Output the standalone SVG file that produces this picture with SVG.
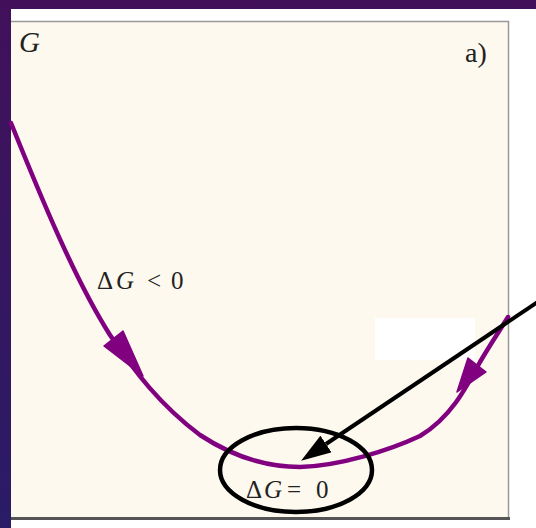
<svg xmlns="http://www.w3.org/2000/svg" width="536" height="528" viewBox="0 0 536 528">
<defs>
<linearGradient id="bg" x1="0" y1="0" x2="0" y2="1">
<stop offset="0" stop-color="#42105a"/>
<stop offset="1" stop-color="#2a1c66"/>
</linearGradient>
<marker id="blk" viewBox="0 0 30 20" refX="0" refY="10" markerWidth="30" markerHeight="20" markerUnits="userSpaceOnUse" orient="auto">
<path d="M0,0 L30,10 L0,20 z" fill="#000"/>
</marker>
<style>
.lbl{font-family:"Liberation Serif","Times New Roman",serif;fill:#222}
.it{font-style:italic}
.curve{fill:none;stroke:#800080;stroke-width:4.5;stroke-linejoin:round;stroke-linecap:round}
.head{fill:#800080;stroke:#800080;stroke-width:1.5;stroke-linejoin:round}
</style>
</defs>
<rect width="536" height="528" fill="url(#bg)"/>
<rect x="11" y="9" width="525" height="519" fill="#ffffff"/>
<g id="panel">
<rect x="11" y="21" width="497" height="497" fill="#fdf9ef"/>
<rect x="375" y="318" width="100" height="42" fill="#ffffff"/>
<line x1="11" y1="21.5" x2="509" y2="21.5" stroke="#999" stroke-width="1.5"/>
<line x1="508.5" y1="21" x2="508.5" y2="518" stroke="#999" stroke-width="1.5"/>
<line x1="11" y1="518.5" x2="510" y2="518.5" stroke="#555" stroke-width="3"/>
</g>
<g id="labels">
<text class="lbl it" x="19" y="52" font-size="29">G</text>
<text class="lbl" x="465" y="62" font-size="28">a)</text>
<text class="lbl" y="289" font-size="25"><tspan x="97">Δ</tspan><tspan class="it" x="116">G</tspan><tspan x="147">&lt;</tspan><tspan x="171">0</tspan></text>
</g>
<g id="curve">
<path class="curve" d="M11,123 C40,195 75,280 110,335 C135,372 160,405 200,435 C235,458 270,467 300,467 C340,466 390,450 420,436 C450,418 465,390 480,362 C490,345 500,330 508,317"/>
<polygon class="head" points="104,346 123,331 143,376"/>
<polygon class="head" points="468,358 486,372 457,392"/>
</g>
<g id="equilibrium">
<ellipse cx="296" cy="470" rx="76" ry="42" fill="none" stroke="#000" stroke-width="4.5"/>
<text class="lbl" y="498" font-size="25"><tspan x="246">Δ</tspan><tspan class="it" x="264">G</tspan><tspan x="287">=</tspan><tspan x="316">0</tspan></text>
</g>
<g id="connectors">
<line x1="545" y1="297" x2="326" y2="444" stroke="#000" stroke-width="4" marker-end="url(#blk)"/>
</g>
</svg>
